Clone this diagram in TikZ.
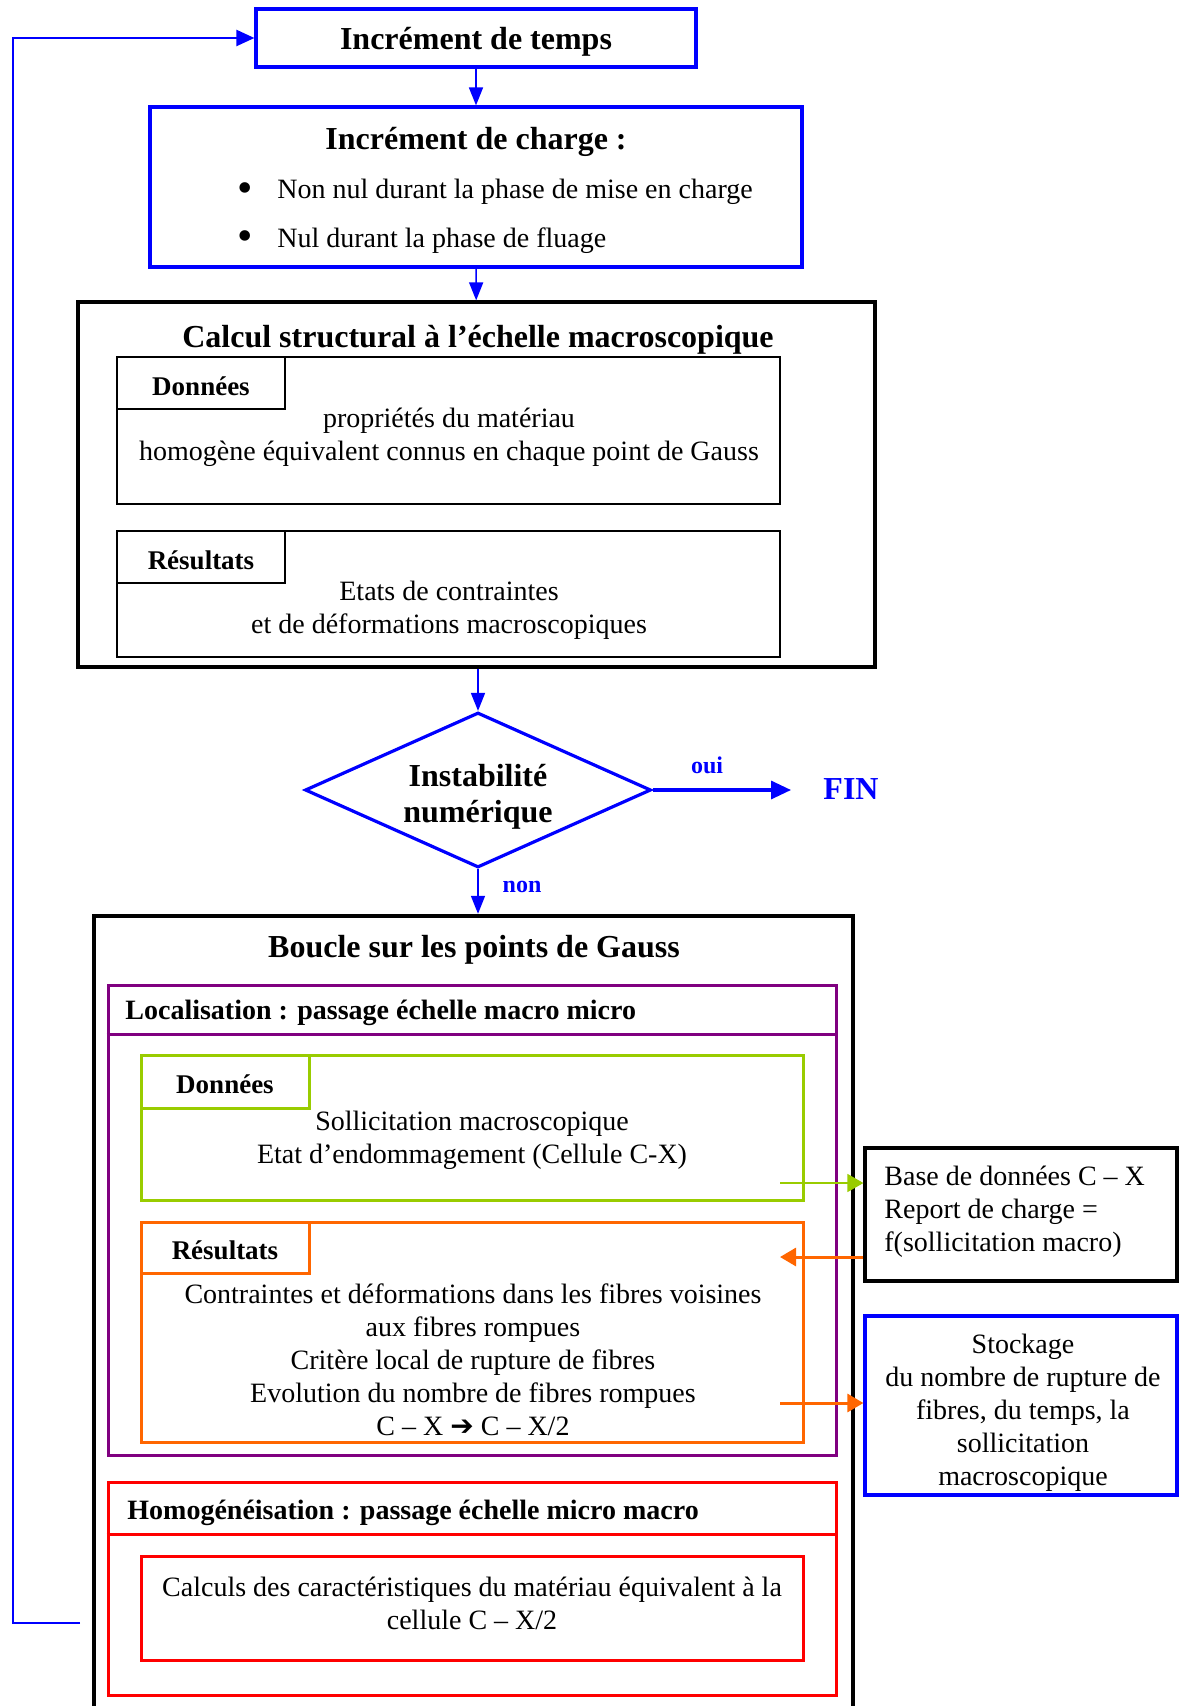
\documentclass[tikz,border=0pt]{standalone}
\usepackage{fontspec}
\setmainfont{Liberation Serif}
\newfontfamily\dejavu{DejaVu Sans}
\usetikzlibrary{arrows.meta,fit,shapes.geometric}
\definecolor{fblue}{RGB}{0,0,255}
\definecolor{fpurple}{RGB}{128,0,128}
\definecolor{fgreen}{RGB}{153,204,0}
\definecolor{forange}{RGB}{255,102,0}
\definecolor{fred}{RGB}{255,0,0}
\begin{document}
\begin{tikzpicture}[x=0.5pt,y=-0.5pt,
  frame/.style={draw, inner sep=0pt},
  down/.style={yshift=-1.6pt},
  txt/.style={down, font=\fontsize{14}{16.5}\selectfont, align=center, inner sep=0pt},
  ltxt/.style={down, font=\fontsize{14}{16.5}\selectfont, align=left, inner sep=0pt},
  btitle/.style={down, font=\fontsize{16}{18}\selectfont\bfseries, inner sep=0pt},
  btab/.style={down, font=\fontsize{13.5}{16}\selectfont\bfseries, inner sep=0pt},
  bhead/.style={down, font=\fontsize{14}{16}\selectfont\bfseries, inner sep=0pt, anchor=west},
  blab/.style={down, font=\fontsize{12}{14}\selectfont\bfseries, text=fblue, inner sep=0pt},
  arr/.style={-{Triangle[length=9pt,width=7pt]}, draw=fblue, line width=0.8pt},
]
\useasboundingbox[fill=white] (0,0) rectangle (1188,1706);

% Increment de temps
\node[frame, draw=fblue, line width=1.6pt, fit={(256,9) (696,67)}] (t) {};
\node[btitle] (tt) at (476,39) {Incrément de temps};

% Increment de charge
\node[frame, draw=fblue, line width=1.6pt, fit={(150,107) (802,267)}] (c) {};
\node[btitle] (ct) at (476,139) {Incrément de charge :};
\node[down, font=\fontsize{22}{22}\selectfont, inner sep=0pt] (cb1) at (245,189) {•};
\node[down, font=\fontsize{22}{22}\selectfont, inner sep=0pt] (cb2) at (245,237) {•};
\node[txt, anchor=west] (cl1) at (277,189) {Non nul durant la phase de mise en charge};
\node[txt, anchor=west] (cl2) at (277,237) {Nul durant la phase de fluage};

% Calcul structural
\node[frame, line width=1.6pt, fit={(78,302) (875,667)}] (s) {};
\node[btitle] (st) at (478,337) {Calcul structural à l’échelle macroscopique};
\node[frame, line width=1.3pt, fit={(117,357) (780,504)}] (sd) {};
\node[frame, line width=1.3pt, fit={(117,357) (285,409)}] (sdt) {};
\node[btab] at (sdt) {Données};
\node[txt] (sdx) at (449,434) {propriétés du matériau\\homogène équivalent connus en chaque point de Gauss};
\node[frame, line width=1.3pt, fit={(117,531) (780,657)}] (sr) {};
\node[frame, line width=1.3pt, fit={(117,531) (285,583)}] (srt) {};
\node[btab] at (srt) {Résultats};
\node[txt] (srx) at (449,607) {Etats de contraintes\\et de déformations macroscopiques};

% Diamond
\node[diamond, draw=fblue, line width=1.6pt, inner sep=0pt, minimum width=173pt, minimum height=77.5pt] (d) at (478,790) {};
\node[down, align=center, inner sep=0pt, font=\fontsize{16}{18}\selectfont\bfseries] (dt) at (478,794) {Instabilité\\numérique};
\node[down, font=\fontsize{16}{18}\selectfont\bfseries, text=fblue, inner sep=0pt] (fin) at (851,786) {FIN};
\node[blab] (oui) at (707,762) {oui};
\node[blab] (non) at (522,884) {non};

% Boucle
\node[frame, line width=2.2pt, fit={(94,916) (853,1730)}] (b) {};
\node[btitle] (bt) at (474,947) {Boucle sur les points de Gauss};

% Localisation
\node[frame, draw=fpurple, line width=1.5pt, fit={(108,985) (836,1455)}] (l) {};
\draw[fpurple, line width=1.5pt] (l.west |- 0,1034) coordinate (lsepw) -- (lsepw -| l.east);
\node[bhead] (lt) at (125,1010) {Localisation : passage échelle macro micro};

\node[frame, draw=fgreen, line width=1.5pt, fit={(141,1055) (803,1200)}] (g) {};
\node[frame, draw=fgreen, line width=1.5pt, fit={(141,1055) (309,1108)}] (gt) {};
\node[btab] at (gt) {Données};
\node[txt] (gx) at (472,1137) {Sollicitation macroscopique\\Etat d’endommagement (Cellule C-X)};

\node[frame, draw=forange, line width=1.5pt, fit={(141,1222) (803,1442)}] (o) {};
\node[frame, draw=forange, line width=1.5pt, fit={(141,1222) (309,1273)}] (ot) {};
\node[btab] at (ot) {Résultats};
\node[txt] (ox) at (473,1357) {Contraintes et déformations dans les fibres voisines\\aux fibres rompues\\Critère local de rupture de fibres\\Evolution du nombre de fibres rompues\\C – X {\dejavu ➔} C – X/2};

% Homogeneisation
\node[frame, draw=fred, line width=1.5pt, fit={(108,1482) (836,1695)}] (h) {};
\draw[fred, line width=1.5pt] (h.west |- 0,1534) coordinate (hsepw) -- (hsepw -| h.east);
\node[bhead] (ht) at (127,1510) {Homogénéisation : passage échelle micro macro};
\node[frame, draw=fred, line width=1.5pt, fit={(141,1556) (803,1660)}] (hi) {};
\node[txt] (hx) at (472,1600) {Calculs des caractéristiques du matériau équivalent à la\\cellule C – X/2};

% Right boxes
\node[frame, line width=1.6pt, fit={(865,1148) (1177,1281)}] (rb) {};
\node[ltxt, anchor=west] (rbx) at (884,1209) {Base de données C – X\\Report de charge =\\f(sollicitation macro)};
\node[frame, draw=fblue, line width=1.6pt, fit={(865,1316) (1177,1495)}] (sb) {};
\node[txt] (sbx) at (1023,1410) {Stockage\\du nombre de rupture de\\fibres, du temps, la\\sollicitation\\macroscopique};

% Connectors
\draw[arr] (t) -- (c);
\draw[arr] (c) -- (s);
\draw[arr] (s.south -| d.north) -- (d.north);
\draw[arr] (d.south) -- (d.south |- b.north);
\draw[arr, line width=1.6pt, -{Triangle[length=10pt,width=9pt]}, shorten >=16pt] (d.east) -- (d.east -| fin.west);
\draw[-{Triangle[length=8pt,width=9pt]}, draw=fgreen, line width=0.7pt]
  (780,1183) coordinate (g1) -- (g1 -| rb.west);
\coordinate (o1) at (780,1257);
\draw[-{Triangle[length=8pt,width=9pt]}, draw=forange, line width=1.5pt]
  (o1 -| rb.west) -- (o1);
\coordinate (o2) at (780,1403);
\draw[-{Triangle[length=8pt,width=9pt]}, draw=forange, line width=1.5pt]
  (o2) -- (o2 -| sb.west);
\coordinate (fb) at (80,1623);
\coordinate (fbc) at (13,1623);
\draw[-{Triangle[length=9pt,width=8pt]}, draw=fblue, line width=1.1pt]
  (fb) -- (fbc) |- (t.west);
\end{tikzpicture}
\end{document}
